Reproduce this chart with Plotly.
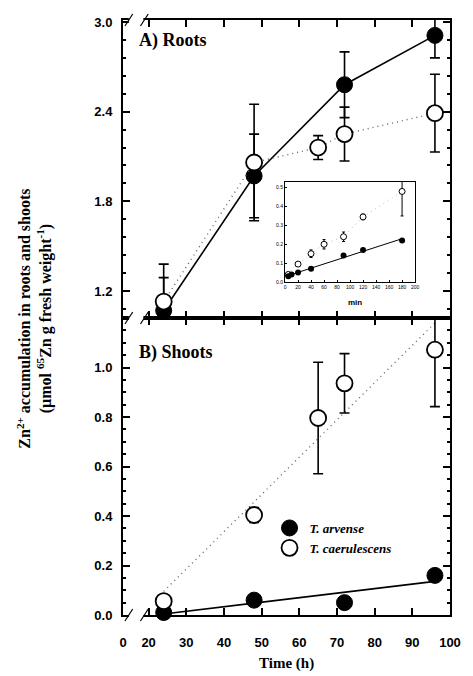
import numpy as np
import plotly.graph_objects as go

# ---------------- data ----------------
roots_t_arv = [24, 48, 72, 96]
roots_arv = [1.07, 1.97, 2.58, 2.91]
roots_arv_err = [0.22, 0.28, 0.22, 0.15]

roots_t_cae = [24, 48, 65, 72, 96]
roots_cae = [1.13, 2.06, 2.16, 2.25, 2.39]
roots_cae_err = [0.25, 0.39, 0.08, 0.18, 0.26]

shoots_t_arv = [24, 48, 72, 96]
shoots_arv = [0.01, 0.06, 0.05, 0.16]

shoots_t_cae = [24, 48, 65, 72, 96]
shoots_cae = [0.056, 0.404, 0.796, 0.936, 1.072]
shoots_cae_err = [0.02, 0.03, 0.225, 0.12, 0.23]

inset_t_arv = [5, 10, 20, 40, 90, 120, 180]
inset_arv = [0.03, 0.04, 0.05, 0.07, 0.14, 0.17, 0.22]
inset_t_cae = [5, 20, 40, 60, 90, 120, 180]
inset_cae = [0.04, 0.095, 0.15, 0.20, 0.24, 0.345, 0.48]
inset_cae_err = [0.01, 0.01, 0.02, 0.025, 0.025, 0.015, 0.13]

x_tickvals = [13.2, 20, 30, 40, 50, 60, 70, 80, 90, 100]
x_ticktext = ["0", "20", "30", "40", "50", "60", "70", "80", "90", "100"]
roots_yticks = [1.2, 1.8, 2.4, 3.0]
shoots_yticks = [0.0, 0.2, 0.4, 0.6, 0.8, 1.0]
inset_xticks = list(range(0, 201, 20))

# ---------------- geometry helpers ----------------
W, H = 473, 676
L, R, T, B = 123, 460, 20, 615
PW, PH = R - L, B - T
def px(x):
    return (x - L) / PW
def py(y):
    return (B - y) / PH
split = py(318)

serif = "Liberation Serif"
sans = "Liberation Sans"
DOT = "1px,4px"

fig = go.Figure()

# ---------------- top panel (roots) ----------------
fig.add_trace(go.Scatter(
    x=roots_t_arv, y=roots_arv, xaxis="x", yaxis="y", mode="lines+markers",
    line=dict(color="black", width=1.6),
    marker=dict(symbol="circle", size=16, color="black", line=dict(color="black", width=1)),
    error_y=dict(type="data", array=roots_arv_err, color="black", thickness=1.6, width=5),
    showlegend=False, cliponaxis=False))
fig.add_trace(go.Scatter(
    x=roots_t_cae, y=roots_cae, xaxis="x", yaxis="y", mode="lines+markers",
    line=dict(color="#666", width=1.4, dash=DOT),
    marker=dict(symbol="circle", size=16, color="white", line=dict(color="black", width=1.8)),
    error_y=dict(type="data", array=roots_cae_err, color="black", thickness=1.6, width=5),
    showlegend=False, cliponaxis=False))

# ---------------- bottom panel (shoots) ----------------
fa = np.polyfit(shoots_t_arv, shoots_arv, 1)
fc = np.polyfit(shoots_t_cae, shoots_cae, 1)
fit_x = np.array([shoots_t_arv[0], shoots_t_arv[-1]])
fig.add_trace(go.Scatter(
    x=fit_x, y=np.polyval(fa, fit_x), xaxis="x2", yaxis="y2", mode="lines",
    line=dict(color="black", width=1.6), showlegend=False, hoverinfo="skip"))
fig.add_trace(go.Scatter(
    x=fit_x, y=np.polyval(fc, fit_x), xaxis="x2", yaxis="y2", mode="lines",
    line=dict(color="#666", width=1.4, dash=DOT), showlegend=False, hoverinfo="skip"))
fig.add_trace(go.Scatter(
    x=shoots_t_arv, y=shoots_arv, xaxis="x2", yaxis="y2", mode="markers",
    marker=dict(symbol="circle", size=16, color="black", line=dict(color="black", width=1)),
    showlegend=False, cliponaxis=False))
fig.add_trace(go.Scatter(
    x=shoots_t_cae, y=shoots_cae, xaxis="x2", yaxis="y2", mode="markers",
    marker=dict(symbol="circle", size=16, color="white", line=dict(color="black", width=1.8)),
    error_y=dict(type="data", array=shoots_cae_err, color="black", thickness=1.6, width=5),
    showlegend=False))

# legend entries
fig.add_trace(go.Scatter(
    x=[None], y=[None], xaxis="x2", yaxis="y2", mode="markers",
    marker=dict(symbol="circle", size=16, color="black", line=dict(color="black", width=1)),
    name="<b><i>T. arvense</i></b>"))
fig.add_trace(go.Scatter(
    x=[None], y=[None], xaxis="x2", yaxis="y2", mode="markers",
    marker=dict(symbol="circle", size=16, color="white", line=dict(color="black", width=1.8)),
    name="<b><i>T. caerulescens</i></b>"))

# ---------------- inset ----------------
fi = np.polyfit(inset_t_arv, inset_arv, 1)
fi_x = np.array([inset_t_arv[0], inset_t_arv[-1]])
fig.add_trace(go.Scatter(
    x=fi_x, y=np.polyval(fi, fi_x), xaxis="x3", yaxis="y3", mode="lines",
    line=dict(color="black", width=1), showlegend=False, hoverinfo="skip"))
fig.add_trace(go.Scatter(
    x=inset_t_cae, y=inset_cae, xaxis="x3", yaxis="y3", mode="lines+markers",
    line=dict(color="#aaa", width=0.8, dash=DOT),
    marker=dict(symbol="circle", size=6, color="white", line=dict(color="black", width=1)),
    error_y=dict(type="data", array=inset_cae_err, color="black", thickness=1, width=1.5),
    showlegend=False))
fig.add_trace(go.Scatter(
    x=inset_t_arv, y=inset_arv, xaxis="x3", yaxis="y3", mode="markers",
    marker=dict(symbol="circle", size=6, color="black"),
    showlegend=False))

tickfont = dict(family=sans, size=13, color="black", weight="bold")

common_x = dict(range=[13.2, 100], tickmode="array", tickvals=x_tickvals,
                showline=True, linecolor="black", linewidth=2, mirror="ticks",
                ticks="inside", ticklen=7, tickwidth=1.5, tickcolor="black",
                showgrid=False, zeroline=False)

fig.update_layout(
    width=W, height=H,
    margin=dict(l=L, r=W - R, t=T, b=H - B),
    paper_bgcolor="white", plot_bgcolor="white",
    xaxis=dict(**common_x, anchor="y", showticklabels=False, matches="x2"),
    xaxis2=dict(**common_x, anchor="y2", ticktext=x_ticktext, tickfont=tickfont,
                ticklabelstandoff=14),
    yaxis=dict(domain=[split, 1], range=[1.02, 3.013], anchor="x",
               tickmode="array", tickvals=roots_yticks, ticktext=[f"{v:.1f}" for v in roots_yticks],
               showline=True, linecolor="black", linewidth=2, mirror="ticks",
               ticks="inside", ticklen=7, tickwidth=1.5, tickcolor="black",
               minor=dict(ticks="inside", ticklen=3, tick0=1.2, dtick=0.12, tickcolor="black"),
               tickfont=tickfont, ticklabelstandoff=6, showgrid=False, zeroline=False),
    yaxis4=dict(overlaying="y", anchor="x", side="left", range=[1.02, 3.013],
                tickmode="array", tickvals=roots_yticks, ticks="outside", ticklen=7,
                tickwidth=1.5, tickcolor="black", showticklabels=False,
                showline=False, showgrid=False, zeroline=False),
    yaxis2=dict(domain=[0, split], range=[0, 1.2], anchor="x2",
                tickmode="array", tickvals=shoots_yticks, ticktext=[f"{v:.1f}" for v in shoots_yticks],
                showline=True, linecolor="black", linewidth=2, mirror="ticks",
                ticks="inside", ticklen=7, tickwidth=1.5, tickcolor="black",
                minor=dict(ticks="inside", ticklen=3, tick0=0, dtick=0.05, tickcolor="black"),
                tickfont=tickfont, ticklabelstandoff=6, showgrid=False, zeroline=False),
    yaxis5=dict(overlaying="y2", anchor="x2", side="left", range=[0, 1.2],
                tickmode="array", tickvals=shoots_yticks, ticks="outside", ticklen=7,
                tickwidth=1.5, tickcolor="black", showticklabels=False,
                showline=False, showgrid=False, zeroline=False),
    xaxis3=dict(domain=[px(290), px(424)], anchor="y3", range=[0, 200],
                tickmode="array", tickvals=inset_xticks,
                showline=True, linecolor="black", linewidth=1.2, mirror=True,
                ticks="inside", ticklen=2, tickcolor="black",
                tickfont=dict(family=sans, size=5, color="black"),
                showgrid=False, zeroline=False),
    yaxis3=dict(domain=[py(282), py(182)], anchor="x3", range=[0, 0.53],
                tickmode="linear", tick0=0, dtick=0.1, tickformat=".1f",
                showline=True, linecolor="black", linewidth=1.2, mirror=True,
                ticks="inside", ticklen=2, tickcolor="black",
                tickfont=dict(family=sans, size=5, color="black"),
                showgrid=False, zeroline=False),
    legend=dict(x=px(274), y=py(513), xanchor="left", yanchor="top",
                bgcolor="rgba(0,0,0,0)", borderwidth=0,
                font=dict(family=serif, size=13, color="black"),
                itemsizing="trace", tracegroupgap=0),
    showlegend=True,
)

annotations = [
    dict(text="<b>A) Roots</b>", x=px(137), y=py(40), xanchor="left", yanchor="middle",
         font=dict(family=serif, size=18, color="black")),
    dict(text="<b>B) Shoots</b>", x=px(137), y=py(352), xanchor="left", yanchor="middle",
         font=dict(family=serif, size=18, color="black")),
    dict(text="<b>Zn<sup>2+</sup> accumulation in roots and shoots<br>(µmol <sup>65</sup>Zn g fresh weight<sup>-1</sup>)</b>",
         x=px(32), y=py(319), xanchor="center", yanchor="middle", textangle=-90,
         font=dict(family=serif, size=16, color="black")),
    dict(text="<b>Time (h)</b>", x=px(291), y=py(663), xanchor="center", yanchor="middle",
         font=dict(family=serif, size=15, color="black")),
    dict(text="<b>min</b>", x=px(362), y=py(302), xanchor="center", yanchor="middle",
         font=dict(family=sans, size=8, color="black")),
]
for a in annotations:
    a.update(xref="paper", yref="paper", showarrow=False)
fig.update_layout(annotations=annotations)

# axis break decorations
shapes = []
for yb in (20, 318, 615):
    shapes.append(dict(type="rect", xref="paper", yref="paper",
                       x0=px(129), x1=px(144), y0=py(yb + 3), y1=py(yb - 3),
                       fillcolor="white", line=dict(width=0), layer="above"))
    for xs in (129, 145):
        shapes.append(dict(type="line", xref="paper", yref="paper",
                           x0=px(xs - 4), y0=py(yb + 6), x1=px(xs + 4), y1=py(yb - 6),
                           line=dict(color="black", width=1.2), layer="above"))
fig.update_layout(shapes=shapes)

fig.write_html("out.html")
